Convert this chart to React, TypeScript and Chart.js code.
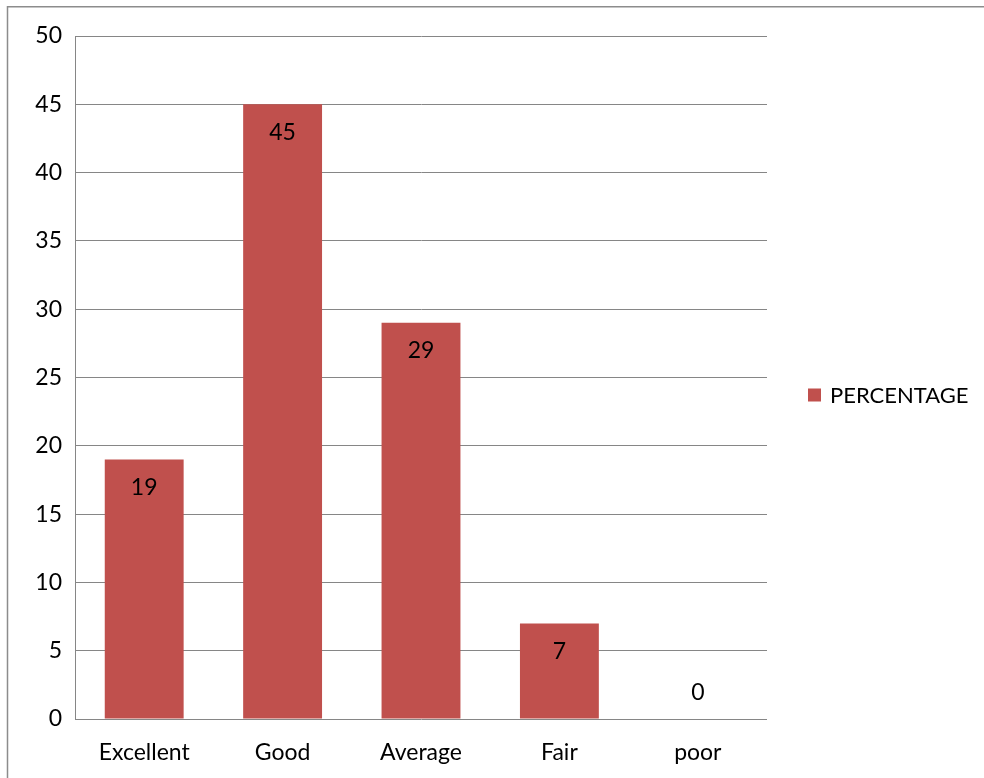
import React, { useEffect, useRef } from "react";
import { Chart, registerables } from "chart.js";

Chart.register(...registerables);

const categories = ["Excellent", "Good", "Average", "Fair", "poor"];
const percentage = [19, 45, 29, 7, 0];
const seriesLabel = "PERCENTAGE";
const yTicks = [0, 5, 10, 15, 20, 25, 30, 35, 40, 45, 50];

const BAR_COLOR = "#C0504D";
const GRID_COLOR = "#868686";
const FONT_FAMILY = "Lato, 'Open Sans', sans-serif";
const FONT_SIZE = 23;
const LEGEND_FONT_SIZE = 22;

// Frame around the figure, value labels inside the bars and the side legend.
const decorations = {
  id: "decorations",
  beforeDraw(chart: any) {
    const { ctx, width, height } = chart;
    ctx.save();
    ctx.fillStyle = "#ffffff";
    ctx.fillRect(0, 0, width, height);
    ctx.strokeStyle = "#8c8c8c";
    ctx.lineWidth = 1.5;
    ctx.beginPath();
    ctx.moveTo(7.5, height);
    ctx.lineTo(7.5, 6.75);
    ctx.lineTo(width, 6.75);
    ctx.stroke();
    ctx.restore();
  },
  afterDatasetsDraw(chart: any) {
    const { ctx } = chart;
    const meta = chart.getDatasetMeta(0);
    const data = chart.data.datasets[0].data as number[];
    ctx.save();
    ctx.font = `${FONT_SIZE}px ${FONT_FAMILY}`;
    ctx.fillStyle = "#000000";
    ctx.textAlign = "center";
    ctx.textBaseline = "middle";
    meta.data.forEach((bar: any, i: number) => {
      const v = data[i];
      const y = v > 0 ? bar.y + 28 : bar.base - 26;
      ctx.fillText(String(v), bar.x, y);
    });

    // legend entry
    const area = chart.chartArea;
    const ly = (area.top + area.bottom) / 2 + 18;
    ctx.fillStyle = BAR_COLOR;
    ctx.fillRect(808, ly - 7, 13, 13);
    ctx.fillStyle = "#000000";
    ctx.textAlign = "left";
    ctx.font = `${LEGEND_FONT_SIZE}px ${FONT_FAMILY}`;
    ctx.fillText(chart.data.datasets[0].label, 830, ly);
    ctx.restore();
  },
};

export default function App() {
  const canvasRef = useRef<HTMLCanvasElement | null>(null);

  useEffect(() => {
    const canvas = canvasRef.current;
    if (!canvas) return;
    const chart = new Chart(canvas, {
      type: "bar",
      data: {
        labels: categories,
        datasets: [
          {
            label: seriesLabel,
            data: percentage,
            backgroundColor: BAR_COLOR,
            borderWidth: 0,
            categoryPercentage: 1,
            barPercentage: 0.57,
          },
        ],
      },
      options: {
        responsive: false,
        animation: false,
        devicePixelRatio: 1,
        layout: { padding: { left: 0, top: 36, right: 217, bottom: 0 } },
        plugins: {
          legend: { display: false },
          tooltip: { enabled: false },
        },
        scales: {
          x: {
            grid: { display: false, drawTicks: false },
            border: { display: false },
            ticks: {
              color: "#000000",
              font: { family: FONT_FAMILY, size: FONT_SIZE },
              padding: 20,
              maxRotation: 0,
            },
            afterFit(scale: any) {
              scale.height = 59;
            },
          },
          y: {
            min: 0,
            max: 50,
            afterBuildTicks(scale: any) {
              scale.ticks = yTicks.map((v) => ({ value: v }));
            },
            grid: { color: GRID_COLOR, lineWidth: 1, drawTicks: false },
            border: { display: true, color: GRID_COLOR, width: 1 },
            ticks: {
              color: "#000000",
              font: { family: FONT_FAMILY, size: FONT_SIZE },
              padding: 13,
            },
            afterFit(scale: any) {
              scale.width = 75;
            },
          },
        },
      },
      plugins: [decorations],
    });
    return () => chart.destroy();
  }, []);

  return (
    <div style={{ position: "fixed", left: 0, top: 0, width: 984, height: 778, overflow: "hidden", background: "#fff" }}>
      <canvas ref={canvasRef} width={984} height={778} style={{ display: "block" }} />
    </div>
  );
}
